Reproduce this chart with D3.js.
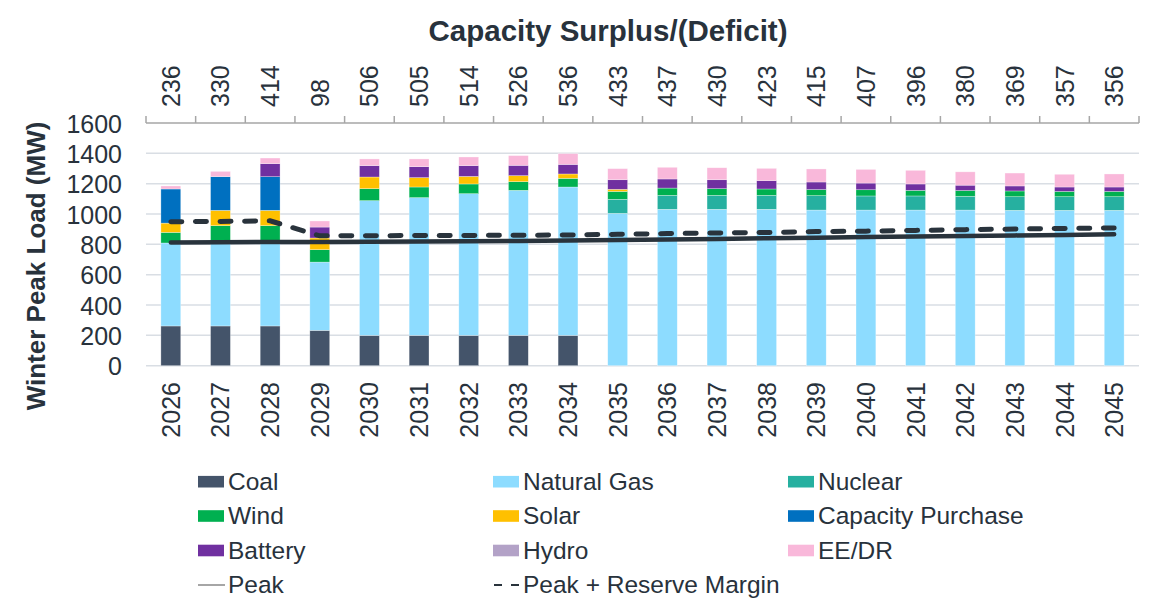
<!DOCTYPE html>
<html>
<head>
<meta charset="utf-8">
<script src="https://cdn.jsdelivr.net/npm/d3@7"></script>
<style>
  body { margin: 0; background: #fff; }
  text { font-family: "Liberation Sans", Arial, sans-serif; fill: #28323c; }
</style>
</head>
<body>
<div id="chart"></div>
<script>
// Datos (MW)
const years = ["2026","2027","2028","2029","2030","2031","2032","2033","2034","2035",
               "2036","2037","2038","2039","2040","2041","2042","2043","2044","2045"];
const coal      = [262,262,262,233,200,200,200,200,200,0,0,0,0,0,0,0,0,0,0,0];
const naturalGas= [547,547,547,450,888,908,934,956,978,1004,1031,1031,1031,1026,1026,1026,1026,1024,1024,1024];
const nuclear   = [0,0,0,0,0,0,0,0,0,93,92,92,92,95,93,93,91,90,90,90];
const wind      = [70,114,114,82,79,70,64,57,57,52,48,44,42,40,41,37,38,38,35,35];
const solar     = [61,101,101,77,77,62,50,40,29,14,0,0,0,0,0,0,0,0,0,0];
const capPurch  = [225,222,222,0,0,0,0,0,0,0,0,0,0,0,0,0,0,0,0,0];
const battery   = [0,0,86,72,75,72,71,68,63,63,60,59,55,50,44,42,35,33,29,29];
const hydro     = [0,0,0,0,0,0,0,0,0,0,0,0,0,0,0,0,0,0,0,0];
const eeDr      = [20,35,37,40,44,51,57,64,71,73,77,79,81,86,90,90,88,85,84,86];
const peak      = [813,814,815,816,817,818,820,822,825,828,832,836,840,844,848,852,855,859,862,866];
const peakRM    = [949,951,955,856,857,858,859,860,862,866,871,875,878,884,887,892,897,901,905,908];
const surplus   = [236,330,414,98,506,505,514,526,536,433,437,430,423,415,407,396,380,369,357,356];
const yTicks    = [0,200,400,600,800,1000,1200,1400,1600];

const series = [
  { name: "Coal", values: coal, color: "#44546a" },
  { name: "Natural Gas", values: naturalGas, color: "#8ddcff" },
  { name: "Nuclear", values: nuclear, color: "#26b0a0" },
  { name: "Wind", values: wind, color: "#00b050" },
  { name: "Solar", values: solar, color: "#ffc000" },
  { name: "Capacity Purchase", values: capPurch, color: "#0070c0" },
  { name: "Battery", values: battery, color: "#7030a0" },
  { name: "Hydro", values: hydro, color: "#b3a2c7" },
  { name: "EE/DR", values: eeDr, color: "#f9b8da" }
];

const W = 1153, H = 606;
const pLeft = 146, pRight = 1139, pTop = 123, pBottom = 365.7;
const lineColor = "#29333c";

const svg = d3.select("#chart").append("svg")
  .attr("width", W).attr("height", H);

const x = d3.scaleBand().domain(years).range([pLeft, pRight]).padding(0);
const y = d3.scaleLinear().domain([0, 1600]).range([pBottom, pTop]);
const barW = x.bandwidth() * 0.4;

// tabla para d3.stack
const table = years.map((yr, i) => {
  const row = { year: yr };
  series.forEach(s => { row[s.name] = s.values[i]; });
  return row;
});
const stack = d3.stack().keys(series.map(s => s.name))(table);

// lineas de cuadricula
svg.append("g")
  .selectAll("line")
  .data(yTicks.filter(t => t < 1600))
  .enter().append("line")
  .attr("x1", pLeft).attr("x2", pRight)
  .attr("y1", d => y(d)).attr("y2", d => y(d))
  .attr("stroke", "#d9dee4").attr("stroke-width", 1.5);

// eje y
const yAxis = svg.append("g")
  .attr("transform", "translate(" + (pLeft - 24) + ",0)")
  .call(d3.axisLeft(y).tickValues(yTicks).tickFormat(d3.format("d")).tickSize(0).tickPadding(0));
yAxis.select(".domain").remove();
yAxis.selectAll("text")
  .style("font-size", "25px")
  .style("font-family", "'Liberation Sans', Arial, sans-serif")
  .attr("fill", "#28323c")
  .attr("dy", "0.36em");

// barras apiladas
const layer = svg.append("g").selectAll("g")
  .data(stack)
  .enter().append("g")
  .attr("fill", (d, i) => series[i].color);

layer.selectAll("rect")
  .data(d => d.map((v, i) => ({ v: v, year: years[i] })))
  .enter().append("rect")
  .filter(d => d.v[1] - d.v[0] > 0)
  .attr("x", d => x(d.year) + (x.bandwidth() - barW) / 2)
  .attr("width", barW)
  .attr("y", d => y(d.v[1]))
  .attr("height", d => y(d.v[0]) - y(d.v[1]))
  .attr("stroke", "#ffffff")
  .attr("stroke-opacity", 0.5)
  .attr("stroke-width", 0.6);

// lineas de pico y pico + margen de reserva
const cx = d => x(d) + x.bandwidth() / 2;
const line = d3.line().x(d => cx(d.year)).y(d => y(d.v));

svg.append("path")
  .datum(years.map((yr, i) => ({ year: yr, v: peak[i] })))
  .attr("d", line)
  .attr("fill", "none")
  .attr("stroke", lineColor)
  .attr("stroke-width", 4.5)
  .attr("stroke-linecap", "round");

svg.append("path")
  .datum(years.map((yr, i) => ({ year: yr, v: peakRM[i] })))
  .attr("d", line)
  .attr("fill", "none")
  .attr("stroke", lineColor)
  .attr("stroke-width", 5)
  .attr("stroke-linecap", "round")
  .attr("stroke-dasharray", "11,13.6");

// eje superior (superavit / deficit)
svg.append("line")
  .attr("x1", pLeft).attr("x2", pRight)
  .attr("y1", pTop).attr("y2", pTop)
  .attr("stroke", "#a6a6a6").attr("stroke-width", 1.5);

svg.append("g").selectAll("line")
  .data(years.map(yr => x(yr)).concat([pRight]))
  .enter().append("line")
  .attr("x1", d => d).attr("x2", d => d)
  .attr("y1", pTop).attr("y2", pTop - 7)
  .attr("stroke", "#a6a6a6").attr("stroke-width", 1.5);

svg.append("g").selectAll("text")
  .data(years)
  .enter().append("text")
  .attr("transform", d => "translate(" + cx(d) + ",107) rotate(-90)")
  .attr("dy", "0.36em")
  .style("font-size", "25px")
  .style("text-anchor", "start")
  .text((d, i) => surplus[i]);

// etiquetas de anios
svg.append("g").selectAll("text")
  .data(years)
  .enter().append("text")
  .attr("transform", d => "translate(" + cx(d) + ",382) rotate(-90)")
  .attr("dy", "0.36em")
  .style("font-size", "25px")
  .style("text-anchor", "end")
  .text(d => d);

// titulos
svg.append("text")
  .attr("x", 608).attr("y", 41)
  .style("text-anchor", "middle")
  .style("font-size", "29.5px")
  .style("font-weight", "bold")
  .text("Capacity Surplus/(Deficit)");

svg.append("text")
  .attr("transform", "translate(45,266) rotate(-90)")
  .style("text-anchor", "middle")
  .style("font-size", "26px")
  .style("font-weight", "bold")
  .text("Winter Peak Load (MW)");

// leyenda
const legendItems = series.map(s => ({ name: s.name, color: s.color, type: "rect" }))
  .concat([{ name: "Peak", type: "line" }, { name: "Peak + Reserve Margin", type: "dash" }]);
const colX = [198, 493, 788];
const rowY = [481.7, 516, 550.5, 585];

const legend = svg.append("g").selectAll("g")
  .data(legendItems)
  .enter().append("g")
  .attr("transform", (d, i) => "translate(" + colX[i % 3] + "," + rowY[Math.floor(i / 3)] + ")");

legend.filter(d => d.type === "rect").append("rect")
  .attr("x", 0).attr("y", -5.8)
  .attr("width", 26).attr("height", 11.6)
  .attr("fill", d => d.color);

legend.filter(d => d.type === "line").append("line")
  .attr("x1", 0).attr("x2", 27).attr("y1", 0).attr("y2", 0)
  .attr("stroke", "#a6a6a6").attr("stroke-width", 2);

legend.filter(d => d.type === "dash").append("line")
  .attr("x1", 1).attr("x2", 26).attr("y1", 0).attr("y2", 0)
  .attr("stroke", lineColor).attr("stroke-width", 2)
  .attr("stroke-dasharray", "8,9");

legend.append("text")
  .attr("x", 30)
  .attr("dy", "0.34em")
  .style("font-size", "24.5px")
  .text(d => d.name);
</script>
</body>
</html>
